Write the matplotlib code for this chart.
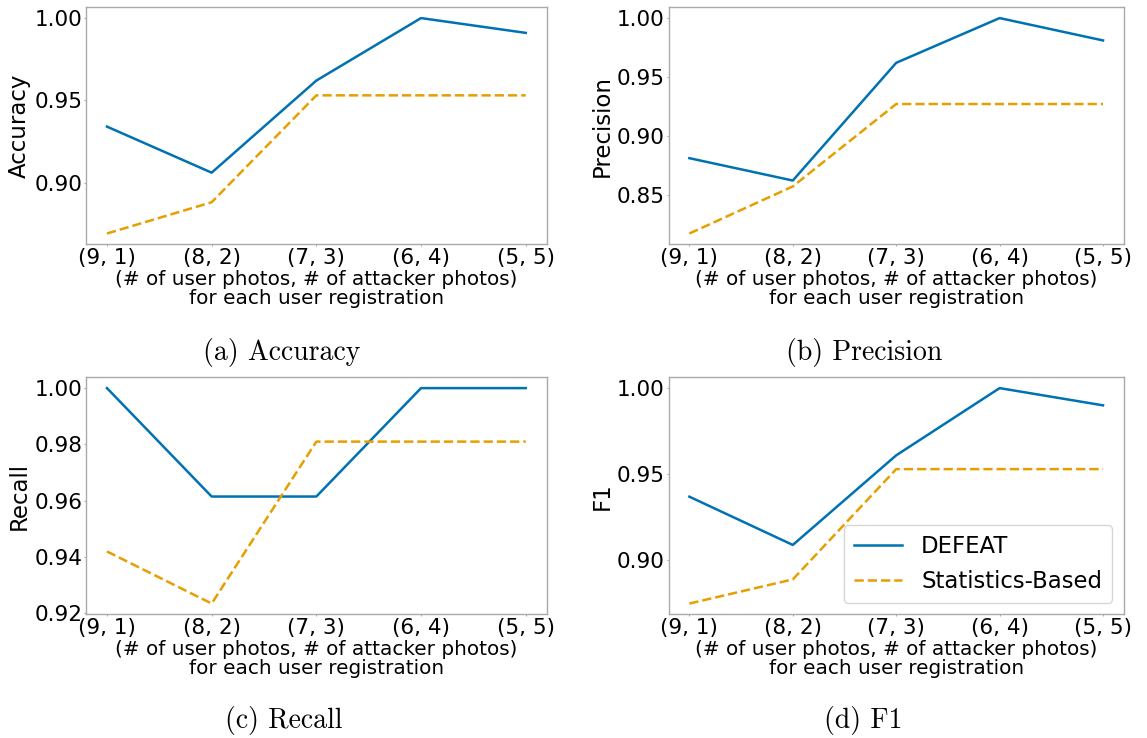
import matplotlib
matplotlib.use('Agg')
import matplotlib.pyplot as plt

configs = ['(9, 1)', '(8, 2)', '(7, 3)', '(6, 4)', '(5, 5)']

acc_defeat = [0.934, 0.906, 0.962, 1.000, 0.991]
acc_stats = [0.869, 0.888, 0.953, 0.953, 0.953]

prec_defeat = [0.881, 0.862, 0.962, 1.000, 0.981]
prec_stats = [0.817, 0.857, 0.927, 0.927, 0.927]

rec_defeat = [1.000, 0.9615, 0.9615, 1.000, 1.000]
rec_stats = [0.942, 0.9235, 0.981, 0.981, 0.981]

f1_defeat = [0.937, 0.909, 0.961, 1.000, 0.990]
f1_stats = [0.875, 0.889, 0.953, 0.953, 0.953]

panels = [
    ('Accuracy', acc_defeat, acc_stats, '(a) Accuracy'),
    ('Precision', prec_defeat, prec_stats, '(b) Precision'),
    ('Recall', rec_defeat, rec_stats, '(c) Recall'),
    ('F1', f1_defeat, f1_stats, '(d) F1'),
]

blue = '#0072B2'
orange = '#E69F00'
spine_col = '#aaaaaa'

fig = plt.figure(figsize=(11.47, 7.38), dpi=100)

rects = [
    [0.075, 0.669, 0.4016, 0.3211],
    [0.583, 0.669, 0.3967, 0.3211],
    [0.075, 0.1676, 0.4016, 0.3211],
    [0.583, 0.1676, 0.3967, 0.3211],
]
caption_pos = [(0.246, 0.522), (0.7537, 0.522), (0.2473, 0.024), (0.753, 0.024)]

for i, (ylab, d, s, cap) in enumerate(panels):
    ax = fig.add_axes(rects[i])
    x = list(range(len(configs)))
    ax.plot(x, d, color=blue, lw=1.8, label='DEFEAT')
    ax.plot(x, s, color=orange, lw=1.8, ls='--', label='Statistics-Based')
    ax.set_xticks(x)
    ax.set_xticklabels(configs)
    ax.tick_params(labelsize=15.5, colors=spine_col, labelcolor='black',
                   length=1.6, width=0.8, pad=1.2)
    for sp in ax.spines.values():
        sp.set_color(spine_col)
        sp.set_linewidth(1.0)
    ax.set_ylabel(ylab, fontsize=16.5, labelpad=2.5)
    ax.set_xlabel('(# of user photos, # of attacker photos)\nfor each user registration',
                  fontsize=14.4, labelpad=1, linespacing=1.05)
    if i == 1:
        ax.set_yticks([0.85, 0.90, 0.95, 1.00])
    if i == 3:
        ax.legend(loc='lower right', fontsize=16.4, handlelength=2.1, borderpad=0.45,
                  labelspacing=0.5, handletextpad=0.85)
    fig.text(caption_pos[i][0], caption_pos[i][1], cap, fontsize=20,
             family='cmr10', ha='center', va='center')

fig.savefig('out.png', dpi=100)
